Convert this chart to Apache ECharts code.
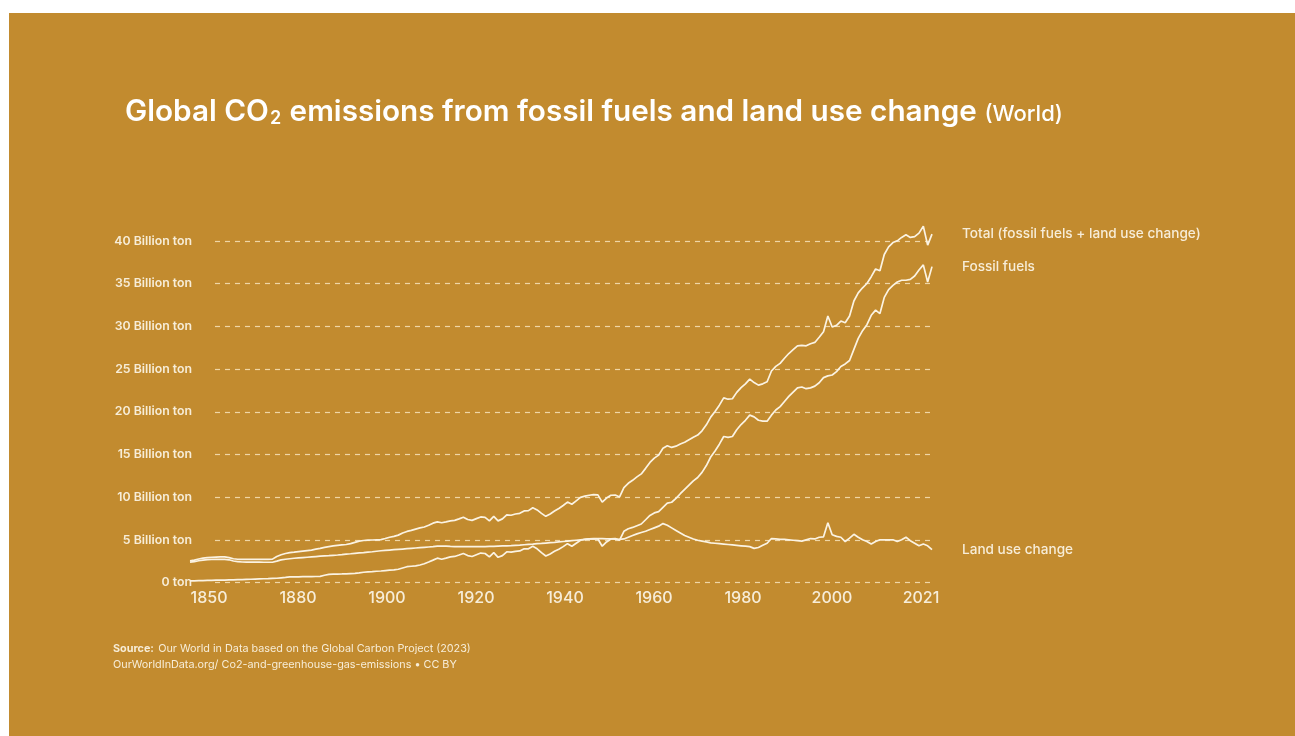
<!DOCTYPE html>
<html>
<head>
<meta charset="utf-8">
<script src="https://cdn.jsdelivr.net/npm/echarts@6/dist/echarts.min.js"></script>
<style>
  html, body { margin: 0; padding: 0; background: #ffffff; width: 1295px; height: 736px; overflow: hidden; }
  #panel { position: absolute; left: 9px; top: 13px; width: 1286px; height: 723px; background: #C28B2F; }
  #chart { position: absolute; left: 0; top: 0; width: 1295px; height: 736px; }
</style>
</head>
<body>
<div id="panel"></div>
<div id="chart"></div>
<script>
// Annual global CO2 emissions, billion tonnes, 1850–2021
const firstYear = 1850;

const fossilFuels = [
  0.20, 0.20, 0.21, 0.22, 0.24, 0.26, 0.27, 0.28, 0.28, 0.30,
  0.31, 0.33, 0.34, 0.36, 0.38, 0.40, 0.42, 0.44, 0.45, 0.48,
  0.50, 0.55, 0.60, 0.66, 0.66, 0.67, 0.68, 0.68, 0.69, 0.70,
  0.72, 0.85, 0.95, 0.98, 0.99, 1.00, 1.02, 1.05, 1.08, 1.12,
  1.20, 1.25, 1.28, 1.32, 1.35, 1.40, 1.44, 1.47, 1.55, 1.70,
  1.85, 1.90, 1.95, 2.05, 2.20, 2.40, 2.62, 2.85, 2.72, 2.85,
  3.00, 3.05, 3.22, 3.40, 3.15, 3.05, 3.25, 3.45, 3.40, 3.00,
  3.50, 2.95, 3.15, 3.60, 3.55, 3.65, 3.70, 3.95, 3.95, 4.25,
  3.95, 3.50, 3.10, 3.35, 3.65, 3.90, 4.20, 4.55, 4.25, 4.60,
  4.95, 5.05, 5.10, 5.15, 5.10, 4.25, 4.75, 5.10, 5.15, 4.95,
  6.00, 6.30, 6.45, 6.65, 6.85, 7.35, 7.85, 8.15, 8.30, 8.80,
  9.30, 9.40, 9.85, 10.40, 10.90, 11.40, 11.90, 12.30, 12.90, 13.70,
  14.70, 15.40, 16.20, 17.10, 17.00, 17.10, 17.90, 18.50, 19.00, 19.60,
  19.40, 19.00, 18.90, 18.90, 19.60, 20.20, 20.60, 21.20, 21.80, 22.30,
  22.80, 22.90, 22.70, 22.80, 23.00, 23.40, 24.00, 24.20, 24.30, 24.70,
  25.30, 25.60, 26.00, 27.30, 28.60, 29.50, 30.20, 31.30, 31.90, 31.50,
  33.40, 34.30, 34.80, 35.20, 35.40, 35.40, 35.50, 35.90, 36.60, 37.20,
  35.20, 37.00
];

const landUseChange = [
  2.38, 2.45, 2.55, 2.62, 2.68, 2.70, 2.70, 2.70, 2.70, 2.66,
  2.52, 2.44, 2.40, 2.38, 2.38, 2.38, 2.38, 2.37, 2.37, 2.37,
  2.50, 2.65, 2.72, 2.78, 2.84, 2.88, 2.92, 2.96, 3.00, 3.04,
  3.08, 3.11, 3.14, 3.18, 3.22, 3.27, 3.33, 3.37, 3.42, 3.46,
  3.50, 3.55, 3.60, 3.66, 3.72, 3.76, 3.80, 3.84, 3.88, 3.92,
  3.96, 4.00, 4.04, 4.08, 4.12, 4.16, 4.20, 4.25, 4.25, 4.25,
  4.22, 4.20, 4.20, 4.20, 4.20, 4.20, 4.20, 4.20, 4.21, 4.22,
  4.22, 4.25, 4.28, 4.30, 4.32, 4.35, 4.38, 4.42, 4.46, 4.50,
  4.55, 4.58, 4.62, 4.66, 4.70, 4.75, 4.80, 4.85, 4.90, 4.95,
  5.00, 5.05, 5.10, 5.12, 5.15, 5.15, 5.12, 5.10, 5.08, 5.05,
  5.10, 5.30, 5.50, 5.70, 5.85, 6.00, 6.20, 6.40, 6.60, 6.90,
  6.70, 6.40, 6.10, 5.80, 5.50, 5.30, 5.10, 4.95, 4.85, 4.75,
  4.65, 4.60, 4.55, 4.50, 4.45, 4.40, 4.35, 4.30, 4.25, 4.20,
  4.00, 4.10, 4.35, 4.60, 5.15, 5.10, 5.05, 5.05, 5.00, 4.95,
  4.90, 4.85, 5.00, 5.15, 5.10, 5.30, 5.35, 7.00, 5.60, 5.40,
  5.30, 4.80, 5.20, 5.65, 5.30, 5.00, 4.80, 4.50, 4.80, 5.00,
  5.00, 5.00, 5.00, 4.80, 5.00, 5.30, 4.90, 4.60, 4.30, 4.50,
  4.30, 3.85
];

const totalEmissions = [
  2.55, 2.62, 2.75, 2.85, 2.92, 2.96, 2.98, 3.00, 3.00, 2.92,
  2.78, 2.72, 2.72, 2.72, 2.72, 2.72, 2.72, 2.72, 2.72, 2.74,
  3.05, 3.25, 3.40, 3.50, 3.55, 3.62, 3.68, 3.74, 3.80, 3.90,
  4.00, 4.12, 4.20, 4.28, 4.34, 4.40, 4.45, 4.55, 4.70, 4.85,
  4.92, 4.96, 4.98, 5.00, 5.02, 5.15, 5.30, 5.40, 5.55, 5.80,
  5.98, 6.10, 6.25, 6.40, 6.50, 6.70, 6.95, 7.10, 7.00, 7.10,
  7.22, 7.28, 7.45, 7.65, 7.38, 7.28, 7.48, 7.68, 7.62, 7.22,
  7.75, 7.22, 7.45, 7.92, 7.88, 8.02, 8.10, 8.38, 8.42, 8.75,
  8.50, 8.10, 7.75, 8.02, 8.37, 8.67, 9.02, 9.42, 9.17, 9.57,
  9.97, 10.12, 10.22, 10.29, 10.27, 9.42, 9.89, 10.22, 10.25, 10.02,
  11.12, 11.62, 11.97, 12.37, 12.72, 13.37, 14.07, 14.57, 14.92, 15.72,
  16.02, 15.82, 15.97, 16.22, 16.42, 16.72, 17.02, 17.27, 17.77, 18.47,
  19.37, 20.02, 20.77, 21.62, 21.47, 21.52, 22.27, 22.82, 23.27, 23.82,
  23.42, 23.12, 23.27, 23.52, 24.77, 25.32, 25.67, 26.27, 26.82, 27.27,
  27.72, 27.77, 27.72, 27.97, 28.12, 28.72, 29.37, 31.22, 29.92, 30.12,
  30.62, 30.42, 31.22, 32.97, 33.92, 34.52, 35.02, 35.82, 36.72, 36.52,
  38.42, 39.32, 39.82, 40.02, 40.42, 40.72, 40.42, 40.52, 40.92, 41.72,
  39.52, 40.80
];

const yearTickLabels = ['1850', '1880', '1900', '1920', '1940', '1960', '1980', '2000', '2021'];

const seriesNames = {
  total: 'Total (fossil fuels + land use change)',
  fossil: 'Fossil fuels',
  land: 'Land use change'
};

const INK = '#F7EDD8';
const LINE = '#FBF3E3';
const FONT = 'Inter, "Noto Sans", sans-serif';

const withYears = arr => arr.map((v, i) => [firstYear + i, v]);

const lineSeries = (name, values) => ({
  name,
  type: 'line',
  xAxisIndex: 1,
  yAxisIndex: 1,
  data: withYears(values),
  showSymbol: false,
  clip: false,
  lineStyle: { color: LINE, width: 1.7 },
  emphasis: { disabled: true },
  endLabel: {
    show: true,
    formatter: '{a}',
    distance: 30,
    color: INK,
    fontFamily: FONT,
    fontSize: 13.6,
    fontWeight: 500
  }
});

const chart = echarts.init(document.getElementById('chart'), null, { renderer: 'canvas' });

chart.setOption({
  animation: false,
  backgroundColor: 'transparent',
  textStyle: { fontFamily: FONT },
  title: [
    {
      left: 125,
      top: 93,
      padding: 0,
      text: '{m|Global CO}{s|2}{m| emissions from fossil fuels and land use change }{w|(World)}',
      textStyle: {
        rich: {
          m: { fontFamily: FONT, fontSize: 29.7, fontWeight: 600, color: '#FFFFFF', lineHeight: 38 },
          s: { fontFamily: FONT, fontSize: 18, fontWeight: 600, color: '#FFFFFF', lineHeight: 38, padding: [13, 1, 0, 1] },
          w: { fontFamily: FONT, fontSize: 22, fontWeight: 500, color: '#FFFFFF', lineHeight: 38, padding: [4, 0, 0, 0] }
        }
      }
    },
    {
      left: 113,
      top: 640,
      padding: 0,
      text: '{b|Source:} {r|Our World in Data based on the Global Carbon Project (2023)}\n{r|OurWorldInData.org/ Co2-and-greenhouse-gas-emissions • CC BY}',
      textStyle: {
        rich: {
          b: { fontFamily: FONT, fontSize: 10.8, fontWeight: 700, color: INK, lineHeight: 13.5 },
          r: { fontFamily: FONT, fontSize: 10.8, fontWeight: 400, color: INK, lineHeight: 13.5 }
        }
      }
    }
  ],
  grid: [
    // value gridlines and their labels
    { left: 215, right: 362, top: 241, bottom: 153.5 },
    // plotted lines
    { left: 190, right: 363, top: 241, bottom: 153.5 },
    // year labels
    { left: 164.5, right: 329.5, top: 241, bottom: 153.5 }
  ],
  xAxis: [
    { gridIndex: 0, type: 'value', min: 0, max: 1, show: false },
    { gridIndex: 1, type: 'value', min: firstYear, max: firstYear + fossilFuels.length - 1, show: false },
    {
      gridIndex: 2,
      type: 'category',
      data: yearTickLabels,
      boundaryGap: true,
      axisLine: { show: false },
      axisTick: { show: false },
      splitLine: { show: false },
      axisLabel: {
        color: INK,
        fontFamily: FONT,
        fontSize: 16,
        fontWeight: 500,
        margin: 8,
        interval: 0
      }
    }
  ],
  yAxis: [
    {
      gridIndex: 0,
      type: 'value',
      min: 0,
      max: 40,
      interval: 5,
      axisLine: { show: false },
      axisTick: { show: false },
      axisLabel: {
        color: INK,
        fontFamily: FONT,
        fontSize: 12.3,
        fontWeight: 600,
        margin: 23,
        align: 'right',
        formatter: v => v === 0 ? '0 ton' : v + ' Billion ton'
      },
      splitLine: {
        show: true,
        lineStyle: { color: 'rgba(250, 232, 196, 0.8)', width: 1.2, type: [5, 5] }
      }
    },
    { gridIndex: 1, type: 'value', min: 0, max: 40, show: false },
    { gridIndex: 2, type: 'value', min: 0, max: 40, show: false }
  ],
  series: [
    lineSeries(seriesNames.total, totalEmissions),
    lineSeries(seriesNames.fossil, fossilFuels),
    lineSeries(seriesNames.land, landUseChange)
  ]
});
</script>
</body>
</html>
